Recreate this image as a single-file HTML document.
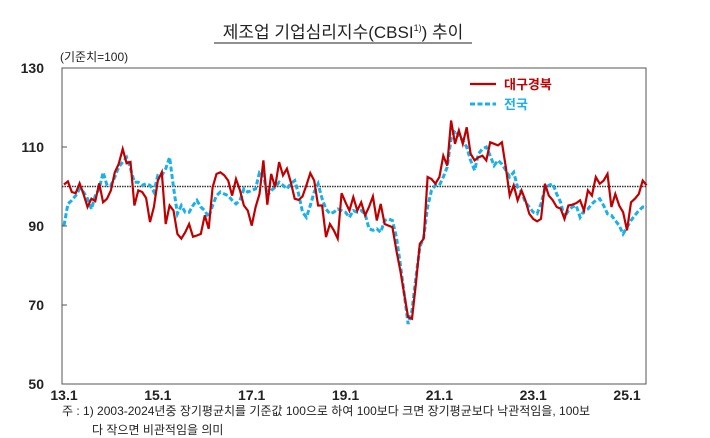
<!DOCTYPE html>
<html><head><meta charset="utf-8"><style>
html,body{margin:0;padding:0;background:#fff;width:710px;height:438px;overflow:hidden}
svg{display:block;font-family:"Liberation Sans","Noto Sans CJK KR",sans-serif}
</style></head><body>
<svg id="chart" width="710" height="438" viewBox="0 0 710 438">
<text x="343" y="38" text-anchor="middle" font-size="17" fill="#222">제조업 기업심리지수(CBSI<tspan font-size="9" dy="-7">1)</tspan><tspan dy="7">) 추이</tspan></text>
<line x1="214" y1="43" x2="472" y2="43" stroke="#222" stroke-width="1"/>
<text x="60" y="61" font-size="12" fill="#222">(기준치=100)</text>
<rect x="62" y="68" width="584" height="316" fill="none" stroke="#555" stroke-width="1"/>
<g id="yticks"></g><g id="xticks"></g>
<line id="ref" stroke="#333" stroke-width="1.5" stroke-dasharray="1.5,1"/>
<path id="blue" fill="none" stroke="#1ab0e8" stroke-width="3" stroke-dasharray="5,2.5"/>
<path id="red" fill="none" stroke="#c00000" stroke-width="2.2"/>
<g>
<line x1="470" y1="84" x2="496" y2="84" stroke="#c00000" stroke-width="2.2"/>
<text x="504" y="89" font-size="13" font-weight="bold" fill="#c00000">대구경북</text>
<line x1="470" y1="104" x2="496" y2="104" stroke="#1ab0e8" stroke-width="3" stroke-dasharray="5,2.5"/>
<text x="504" y="109" font-size="13" font-weight="bold" fill="#1ab0e8">전국</text>
</g>
<text x="62" y="415" font-size="12" fill="#222">주 : 1) 2003-2024년중 장기평균치를 기준값 100으로 하여 100보다 크면 장기평균보다 낙관적임을, 100보</text>
<text x="92" y="434" font-size="12" fill="#222">다 작으면 비관적임을 의미</text>
</svg>
<script>
const yTicks=[130,110,90,70,50];
const xLabels=["13.1","15.1","17.1","19.1","21.1","23.1","25.1"];
const xLabelMonths=[0,24,48,72,96,120,144];
const daegu=[100.5,101.3,98.6,98.3,100.8,98.1,94.8,96.9,96.3,100.8,96,96.9,99,103.6,105.7,109.5,105.9,106.2,95.2,99,98.6,97.1,91,94.8,101.5,103.6,90.5,95.2,93.9,88,86.8,88.4,90.5,87.3,87.6,88,92.7,89.3,99.8,103.2,103.6,102.8,101.5,97.7,101.9,99,95.2,93.9,90.1,94.8,98.1,106.6,95.4,103.2,99.8,106.2,102.8,104.5,101.1,96.9,96.6,97.5,100.3,103.4,101.5,95.2,95.2,87.2,90.5,88.9,86.8,98.3,96,93.9,97.3,93.9,96,92.7,94.8,97.5,91.4,95.6,90.5,90.1,89.7,83.8,78.7,72.8,66.9,66.5,75.4,85.5,86.8,102.4,101.9,100.7,102.4,107.8,105.3,116.7,110.8,114.2,110.8,115,108.3,106.6,107.4,107.8,106.6,111.2,110.8,110.4,111.2,104.9,97.7,100.3,96.5,99,96.5,93.1,91.8,91.2,91.8,100.7,97.7,96.5,94.8,94.4,91.8,95.2,95.4,95.8,96.5,93.9,99,97.7,102.4,100.7,101.5,103.2,94.8,98.1,95.2,93.5,88.9,96,96.9,98.1,101.5,100.3];
const national=[90.1,95.6,96.5,97.7,99.4,98.6,96.9,94.3,97.7,99.4,103.6,100.3,100.3,102.4,104.9,106.2,107.4,104.5,101.1,101.1,100.3,100.7,100.3,98.6,102.8,102.8,104.5,107.4,99.8,93.1,95.2,93.5,93.5,95.2,96.5,94.8,93.9,92.2,95.2,97.7,98.6,98.1,97.7,96.5,95.6,96.5,99.4,98.6,99,99.4,103.6,103.2,97.7,99,99.8,101.1,100.3,99.4,100.7,101.5,98.1,93.5,92.2,95.2,98.6,100.7,96.9,94.3,93.1,93.5,94.3,93.9,93.5,92.2,93.9,93.5,93.9,93.1,89.3,88.9,89.3,88.4,91.4,91.8,91.4,87.2,80.4,72.8,65.2,68.6,77,84.6,87.2,94.8,99,100.3,100.3,102.4,104.9,112.1,114.2,112.9,111.6,110,106.6,104.1,108.3,109.5,110,107.8,105.3,106.6,105.7,104.1,102.4,103.6,99.8,98.6,96,94.8,93.5,93.1,95.6,99.4,100.3,100.7,98.1,96,92.2,93.9,94.8,95.2,92.2,93.9,94.3,95.6,96.5,96.9,95.2,93.1,92.7,91.4,90.1,88,89.7,91.4,92.7,93.9,94.8,94.6];
const X0=62,MW=3.91,YT=68,YB=384,VMIN=50,VMAX=130;
const xs=m=>X0+2+m*MW;
const ys=v=>YB-(v-VMIN)/(VMAX-VMIN)*(YB-YT);
const NS="http://www.w3.org/2000/svg";
const yg=document.getElementById('yticks');
yTicks.forEach(t=>{
  const tx=document.createElementNS(NS,'text');
  tx.setAttribute('x',44);tx.setAttribute('y',ys(t)+5);tx.setAttribute('text-anchor','end');
  tx.setAttribute('font-size','14');tx.setAttribute('font-weight','bold');tx.setAttribute('fill','#222');
  tx.textContent=t;
  
  
  yg.appendChild(tx);
  const ln=document.createElementNS(NS,'line');
  ln.setAttribute('x1',62);ln.setAttribute('x2',67);ln.setAttribute('y1',ys(t));ln.setAttribute('y2',ys(t));ln.setAttribute('stroke','#555');
  
  
  yg.appendChild(ln);
});
const xg=document.getElementById('xticks');
xLabels.forEach((l,i)=>{
  const tx=document.createElementNS(NS,'text');
  tx.setAttribute('x',xs(xLabelMonths[i]));tx.setAttribute('y',400);tx.setAttribute('text-anchor','middle');
  tx.setAttribute('font-size','14');tx.setAttribute('font-weight','bold');tx.setAttribute('fill','#222');
  tx.textContent=l;
  
  
  xg.appendChild(tx);
});
const ref=document.getElementById('ref');
ref.setAttribute('x1',62);ref.setAttribute('x2',646);ref.setAttribute('y1',ys(100));ref.setAttribute('y2',ys(100));
const path=a=>a.map((v,i)=>(i?'L':'M')+xs(i).toFixed(1)+','+ys(v).toFixed(1)).join('');
document.getElementById('red').setAttribute('d',path(daegu));
document.getElementById('blue').setAttribute('d',path(national));
</script>
</body></html>
